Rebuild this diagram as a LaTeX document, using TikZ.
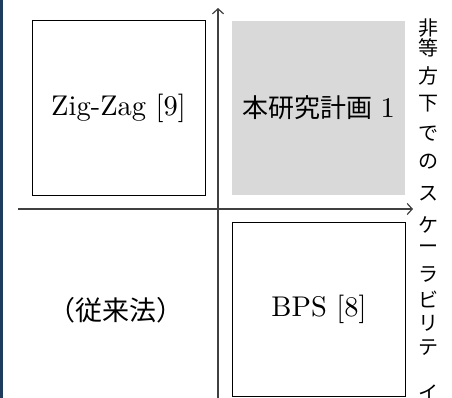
\documentclass[tikz,border=0pt]{standalone}
\usepackage{fontspec}
\setmainfont{lmroman10-regular}[Extension=.otf]
\newfontfamily\jp{Noto Sans CJK JP}
\usetikzlibrary{arrows.meta}
\definecolor{stripe}{HTML}{1F3B5E}
\definecolor{boxgray}{HTML}{D9D9D9}
\definecolor{axisgray}{HTML}{404040}
\begin{document}
\begin{tikzpicture}[x=1pt,y=-1pt,
  quad/.style={draw=black, line width=1pt, minimum width=173pt, minimum height=174pt, inner sep=0pt, outer sep=0pt, font=\fontsize{28.5}{32}\selectfont},
  label/.style={inner sep=0pt, font=\fontsize{28.5}{32}\selectfont},
  axis/.style={draw=axisgray, line width=1.2pt, -{Straight Barb[length=5pt,width=11pt]}},
  vchar/.style={font=\jp\fontsize{20}{20}\selectfont, inner sep=0pt}]
\useasboundingbox (0,0) rectangle (452,398);
\fill[stripe] (0,0) rectangle (2.5,398);
\node[quad] (zz) at (118.5,108) {Zig-Zag [9]};
\node[quad, draw=none, fill=boxgray] (plan) at (318.5,108) {{\jp\fontsize{26}{30}\selectfont 本研究計画}\hspace{0.3em}1};
\node[quad] (bps) at (319,309) {BPS [8]};
\node[label] (conv) at (116,310) {\jp\fontsize{27}{30}\selectfont （従来法）};
\coordinate (vb) at (218,400);
\coordinate (vt) at (218,8);
\coordinate (hl) at (18,209);
\coordinate (hr) at (413,209);
\draw[axis] (vb) -- (vt);
\draw[axis] (hl) -- (hr);
\foreach \c/\y [count=\i] in {非/28,等/48,方/76,下/104,で/134,の/162,ス/194,ケ/225,ー/249,ラ/274,ビ/299,リ/323,テ/348,イ/393}
  \node[vchar] (v\i) at (428,\y) {\c};
\end{tikzpicture}
\end{document}
